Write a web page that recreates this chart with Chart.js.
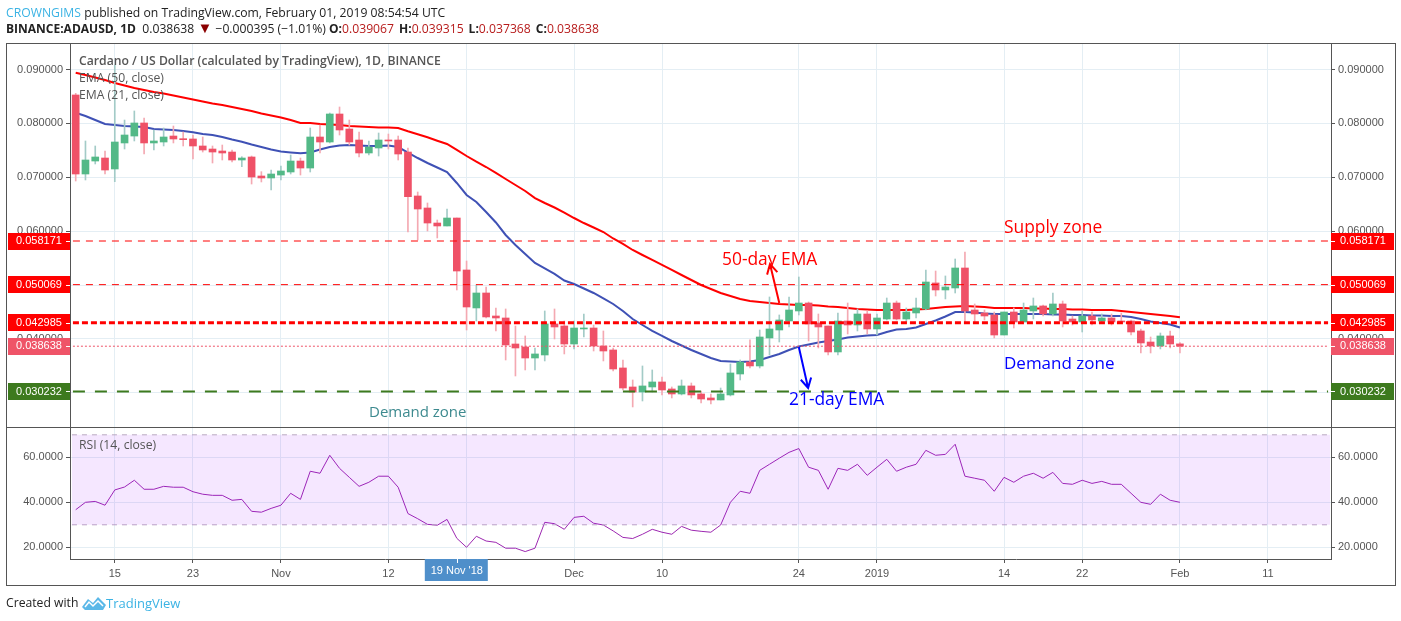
<!DOCTYPE html>
<html>
<head>
<meta charset="utf-8">
<script src="https://cdn.jsdelivr.net/npm/chart.js@4"></script>
<style>
  html,body{margin:0;padding:0;background:#fff;width:1401px;height:621px;overflow:hidden;}
  body{position:relative;font-family:"Open Sans",sans-serif;}
  canvas{position:absolute;left:0;}
  #cv-main{top:0;}
  #cv-rsi{top:427px;}
  .t{position:absolute;white-space:nowrap;}
  .frame{position:absolute;left:6px;top:43px;width:1388px;height:541px;border:1px solid #555;pointer-events:none;}
  .sep{position:absolute;left:6px;top:427px;width:1389px;height:1px;background:#555;}
  .head{font-size:12.2px;color:#222;line-height:16px;}
  .head b{font-weight:700;font-size:12px;}
  .head i{font-style:normal;color:#b71c1c;}
  .head u{text-decoration:none;margin-left:5px;}
  .leg{font-size:12.2px;color:#555;line-height:16px;}
  .note{font-size:17.4px;line-height:20px;}
</style>
</head>
<body>
<canvas id="cv-main" width="1401" height="427"></canvas>
<canvas id="cv-rsi" width="1401" height="194"></canvas>
<div class="sep"></div>
<div class="frame"></div>

<div class="t head" style="left:6px;top:5px"><span style="color:#3bb3e4">CROWNGIMS</span> published on TradingView.com, February 01, 2019 08:54:54 UTC</div>
<div class="t head" style="left:6px;top:21px"><b>BINANCE:ADAUSD, 1D</b>&nbsp; 0.038638 <span style="color:#8b0000;font-size:15px;line-height:12px">▼</span> −0.000395 (−1.01%) <b>O:</b><i>0.039067</i><u><b>H:</b></u><i>0.039315</i><u><b>L:</b></u><i>0.037368</i><u><b>C:</b></u><i>0.038638</i></div>

<div class="t leg" style="left:79px;top:53px;font-weight:600">Cardano / US Dollar (calculated by TradingView), 1D, BINANCE</div>
<div class="t leg" style="left:79px;top:70px">EMA (50, close)</div>
<div class="t leg" style="left:79px;top:87px">EMA (21, close)</div>
<div class="t leg" style="left:79px;top:437px">RSI (14, close)</div>

<div class="t note" style="left:1004px;top:216px;color:#ff0000">Supply zone</div>
<div class="t note" style="left:722px;top:248px;color:#ff0000">50-day EMA</div>
<div class="t note" style="left:1004px;top:353px;color:#0000ff;font-size:17px">Demand zone</div>
<div class="t note" style="left:789px;top:388px;color:#0000ff">21-day EMA</div>
<div class="t note" style="left:369px;top:401px;color:#3d8a8f;font-size:15px">Demand zone</div>

<div class="t head" style="left:6px;top:595px">Created with</div>
<svg style="position:absolute;left:82px;top:596px" width="24" height="15" viewBox="0 0 24 15">
  <path d="M0 11 L6 3 L11 7 L16 1 L24 9 L21 14 L3 14 Z" fill="#5bb8e8"/>
  <path d="M3 11 L7 6 L11 10 L16 5 L21 10" fill="none" stroke="#fff" stroke-width="1.5"/>
</svg>
<div class="t head" style="left:106px;top:595px;color:#3bb3e4;font-size:13px">TradingView</div>

<script>
// OHLC, one candle a day from 11 Oct 2018 (index 0) to 1 Feb 2019 (index 113)
const opens = [
  .08528,.07061,.07302,.07358,.07154,.07637,.07766,.08008,.07637,.07655,
  .07766,.07711,.07711,.07581,.07525,.07488,.07469,.07321,.07377,.07024,
  .06987,.07042,.07098,.07302,.07172,.07748,.07655,.08175,.07896,.07692,
  .07451,.07544,.07687,.07692,.07469,.06653,.06430,.06151,.06096,.06244,
  .05279,.04574,.04852,.04425,.04388,.03905,.03850,.03645,.03701,.04277,
  .04239,.03905,.04184,.04202,.03868,.03794,.03460,.03107,.03014,.03107,
  .03200,.03070,.02977,.03126,.02977,.02903,.02866,.02959,.03348,.03571,
  .03497,.04017,.04165,.04332,.04518,.04666,.04295,.04239,.03757,.04332,
  .04258,.04462,.04184,.04369,.04666,.04369,.04481,.04555,.05038,.04908,
  .04945,.05316,.04536,.04481,.04444,.04072,.04499,.04314,.04518,.04611,
  .04462,.04648,.04369,.04314,.04425,.04332,.04388,.04332,.04332,.04147,
  .03942,.03868,.04054,.03907
];
const highs = [
  .08559,.07674,.07581,.07488,.09084,.08063,.08231,.08101,.07878,.07915,
  .07952,.07841,.07785,.07748,.07581,.07599,.07507,.07382,.07395,.07104,
  .07135,.07209,.07414,.07358,.07915,.07971,.08193,.08305,.08063,.07841,
  .07674,.07822,.07803,.07766,.07544,.06727,.06523,.06207,.06411,.06244,
  .05446,.05000,.04963,.04574,.04555,.04239,.04054,.03831,.04518,.04555,
  .04332,.04332,.04462,.04258,.04147,.03831,.03608,.03237,.03497,.03423,
  .03293,.03107,.03237,.03181,.03033,.02977,.03088,.03534,.03608,.03980,
  .04165,.04778,.04444,.04778,.05149,.04685,.04462,.04239,.04481,.04666,
  .04555,.04518,.04462,.04759,.04703,.04574,.04759,.05279,.05260,.05168,
  .05483,.05613,.04648,.04536,.04499,.04499,.04574,.04666,.04759,.04629,
  .04852,.04703,.04425,.04518,.04499,.04462,.04462,.04481,.04351,.04184,
  .04035,.04109,.04147,.03932
];
const lows = [
  .06931,.06950,.07247,.07061,.06918,.07525,.07674,.07432,.07507,.07581,
  .07637,.07581,.07339,.07469,.07265,.07321,.07284,.07197,.06875,.06913,
  .06764,.06950,.07061,.07042,.07098,.07451,.07637,.07785,.07599,.07377,
  .07414,.07395,.07525,.07321,.05984,.05836,.06003,.05873,.06096,.04908,
  .04165,.04332,.04388,.04147,.03608,.03311,.03423,.03423,.03590,.03998,
  .03720,.03813,.04035,.03775,.03590,.03404,.03051,.02736,.02847,.03014,
  .02959,.02903,.02959,.02903,.02810,.02791,.02866,.02940,.03237,.03460,
  .03460,.03701,.03942,.04221,.04444,.03961,.03831,.03701,.03701,.04091,
  .04147,.04091,.04072,.04351,.04351,.04314,.04388,.04536,.04796,.04741,
  .04852,.04295,.04314,.04351,.04017,.04072,.04202,.04314,.04369,.04425,
  .04425,.04221,.04258,.04128,.04258,.04314,.04258,.04295,.04072,.03738,
  .03738,.03813,.03831,.03737
];
const closes = [
  .07061,.07321,.07377,.07135,.07655,.07785,.08008,.07637,.07674,.07748,
  .07711,.07698,.07581,.07507,.07469,.07451,.07321,.07358,.07005,.06987,
  .07061,.07117,.07302,.07172,.07748,.07655,.08175,.07878,.07655,.07451,
  .07562,.07692,.07674,.07432,.06640,.06411,.06151,.06096,.06244,.05260,
  .04592,.04852,.04407,.04388,.03887,.03831,.03645,.03720,.04277,.04221,
  .03905,.04202,.04202,.03868,.03775,.03441,.03088,.03014,.03126,.03200,
  .03051,.02977,.03126,.02959,.02884,.02866,.02977,.03367,.03571,.03497,
  .04035,.04184,.04351,.04536,.04666,.04277,.04221,.03757,.04332,.04258,
  .04462,.04184,.04388,.04666,.04369,.04499,.04574,.05056,.04908,.04963,
  .05316,.04518,.04462,.04425,.04072,.04499,.04314,.04536,.04611,.04462,
  .04648,.04332,.04314,.04425,.04351,.04388,.04314,.04314,.04128,.03924,
  .03868,.04054,.03905,.03864
];
const ema50 = [
  .08941,.08899,.08852,.08806,.08750,.08704,.08657,.08620,.08583,.08555,
  .08518,.08481,.08444,.08407,.08370,.08342,.08305,.08268,.08231,.08184,
  .08147,.08110,.08063,.08008,.08008,.07989,.07980,.07971,.07952,.07943,
  .07934,.07924,.07924,.07915,.07854,.07798,.07742,.07679,.07618,.07507,
  .07395,.07289,.07191,.07080,.06968,.06857,.06745,.06615,.06523,.06439,
  .06346,.06244,.06151,.06068,.05984,.05864,.05762,.05650,.05557,.05465,
  .05372,.05279,.05186,.05093,.05000,.04926,.04852,.04796,.04741,.04703,
  .04685,.04666,.04648,.04639,.04629,.04629,.04620,.04601,.04592,.04574,
  .04555,.04546,.04536,.04536,.04536,.04536,.04546,.04555,.04574,.04592,
  .04601,.04611,.04601,.04592,.04574,.04574,.04574,.04574,.04564,.04564,
  .04555,.04555,.04546,.04546,.04536,.04536,.04536,.04518,.04499,.04481,
  .04462,.04444,.04425,.04401
];
const ema21 = [
  .08199,.08138,.08063,.07989,.07971,.07952,.07943,.07934,.07896,.07887,
  .07878,.07859,.07835,.07803,.07785,.07748,.07701,.07661,.07609,.07562,
  .07516,.07479,.07460,.07445,.07460,.07516,.07562,.07590,.07599,.07590,
  .07581,.07581,.07590,.07562,.07460,.07358,.07265,.07182,.07098,.06894,
  .06671,.06541,.06356,.06161,.05929,.05743,.05576,.05409,.05307,.05205,
  .05084,.05019,.04935,.04852,.04750,.04648,.04518,.04369,.04258,.04147,
  .04054,.03961,.03877,.03794,.03720,.03645,.03590,.03580,.03571,.03580,
  .03608,.03664,.03720,.03794,.03859,.03896,.03933,.03961,.03989,.04026,
  .04044,.04063,.04072,.04128,.04174,.04184,.04212,.04277,.04342,.04416,
  .04499,.04499,.04490,.04471,.04462,.04462,.04462,.04462,.04462,.04462,
  .04453,.04453,.04444,.04444,.04434,.04434,.04425,.04425,.04407,.04369,
  .04323,.04295,.04267,.04212
];
const rsi = [
  36.7,40,40.4,38.7,45.5,46.8,49.8,45.8,45.8,47.1,
  46.7,46.7,44.7,43.6,43.1,43.1,40.9,41.3,36,35.6,
  37.3,38.7,44,41.3,53.8,52.9,60.9,55.1,51.1,47.1,
  48.9,51.6,51.6,46.7,35,32.7,30.2,29.8,32.4,24,
  20,24.9,22.8,22.2,19.6,19.6,18.1,19.6,31.1,30.5,
  28,33.3,33.8,30.7,29.9,27.3,24.4,23.9,25.8,28,
  26.7,25.8,29.3,27.6,27.1,26.7,29.9,40,44.9,44,
  54.2,56.9,59.6,62.2,63.9,55.6,54.2,45.8,55.1,54.2,
  56.9,52,55.6,59.1,53.8,55.6,56.9,63.1,60.9,61.3,
  65.8,51.6,50.7,49.8,44.9,51.1,48.9,51.6,52.9,50.7,
  53.3,48.4,48,49.8,48.4,49.3,48,48,44,40,
  39.1,43.6,40.9,40
];

const xTickIdx = [4,12,21,32,40,51,60,74,82,95,103,113,122];
const xTickLabels = ['15','23','Nov','12','20','Dec','10','24','2019','14','22','Feb','11'];
const priceTicks = [.03,.04,.05,.06,.07,.08,.09];
const rsiTicks = [20,40,60];

// horizontal levels and their axis boxes
const levelValues = [.058171,.050069,.042985,.038638,.030232];
const levelColors = ['#ff0000','#ff0000','#ff0000','#ef5468','#3d7a1e'];
const levelDash = [[7,6],[7,6],[6,3],[2,2],[12,10]];
const levelWidth = [1,1,3,1,2];

const redArrowX = [72,71.05], redArrowY = [.04666,.0539];
const blueArrowX = [74,74.95], blueArrowY = [.0385,.03088];
const crossIdx = 39, crossLabel = "19 Nov '18";

const xMin = -0.583, xMax = 128.46;
const GREEN='#53b987', RED='#ef5167', GREEN_W='#a3cbc7', RED_W='#f4a9b2';
const GRID='#e4eef4', AXIS='#555';

Chart.defaults.font.family='"Liberation Sans",Arial,sans-serif';
Chart.defaults.font.size=11;
Chart.defaults.color='#555';
Chart.defaults.animation=false;

const up = i=>closes[i]>=opens[i];
const yAxis = (pos,min,max,ticks,digits,grid)=>({
  position:pos, min, max,
  // no room for half labels, the pane has to fill its canvas exactly
  afterFit:s=>{ s.width=64; s.paddingTop=0; s.paddingBottom=0; },
  afterBuildTicks:s=>{ s.ticks=ticks.map(v=>({value:v})); },
  ticks:{ autoSkip:false, padding:3, callback:v=>v.toFixed(digits) },
  grid:{ drawOnChartArea:grid, color:GRID, tickColor:AXIS, tickLength:4 },
  border:{ color:AXIS }
});
const xAxis = (showLabels,h)=>({
  type:'linear', min:xMin, max:xMax, offset:false,
  afterFit:s=>{ s.height=h; s.paddingLeft=0; s.paddingRight=0; },
  afterBuildTicks:s=>{ s.ticks=xTickIdx.map(v=>({value:v})); },
  ticks:{ display:showLabels, autoSkip:false, maxRotation:0, padding:4,
          callback:v=>xTickLabels[xTickIdx.indexOf(v)] },
  grid:{ color:GRID, offset:false, drawTicks:showLabels, tickColor:AXIS, tickLength:4 },
  border:{ display:showLabels, color:AXIS }
});

function arrow(ctx,x0,y0,x1,y1,color){
  const a=Math.atan2(y1-y0,x1-x0), L=11;
  ctx.strokeStyle=color; ctx.lineWidth=2;
  ctx.beginPath(); ctx.moveTo(x0,y0); ctx.lineTo(x1,y1);
  ctx.moveTo(x1-L*Math.cos(a-.5),y1-L*Math.sin(a-.5)); ctx.lineTo(x1,y1);
  ctx.lineTo(x1-L*Math.cos(a+.5),y1-L*Math.sin(a+.5));
  ctx.stroke();
}

// axis boxes for the levels and the two drawn arrows
const mainExtras = {
  id:'mainExtras',
  afterDraw(c){
    const {ctx,scales:{x,y}}=c, a=c.chartArea;
    ctx.save();
    arrow(ctx,x.getPixelForValue(redArrowX[0]),y.getPixelForValue(redArrowY[0]),
              x.getPixelForValue(redArrowX[1]),y.getPixelForValue(redArrowY[1]),'#ff0000');
    arrow(ctx,x.getPixelForValue(blueArrowX[0]),y.getPixelForValue(blueArrowY[0]),
              x.getPixelForValue(blueArrowX[1]),y.getPixelForValue(blueArrowY[1]),'#0000ff');
    ctx.font='11px "Liberation Sans"';
    ctx.textBaseline='middle'; ctx.textAlign='left';
    levelValues.forEach((v,i)=>{
      const py=y.getPixelForValue(v), top=Math.round(py-8.5);
      ctx.fillStyle=levelColors[i];
      ctx.fillRect(8,top,a.left-8,17);
      ctx.fillRect(a.right,top,63,17);
      ctx.fillStyle='#fff';
      ctx.fillText(v.toFixed(6),16,py);
      ctx.fillText(v.toFixed(6),a.right+9,py);
      ctx.fillRect(a.left-4,Math.round(py),4,1);
      ctx.fillRect(a.right,Math.round(py),4,1);
    });
    ctx.restore();
  }
};

const rsiExtras = {
  id:'rsiExtras',
  afterDraw(c){
    const {ctx,scales:{x}}=c, a=c.chartArea, px=x.getPixelForValue(crossIdx);
    ctx.save();
    ctx.fillStyle='#4f8fca';
    ctx.fillRect(px-32,a.bottom,63,22);
    ctx.fillStyle='#fff';
    ctx.fillRect(Math.round(px),a.bottom,1,4);
    ctx.font='11px "Liberation Sans"';
    ctx.textAlign='center'; ctx.textBaseline='middle';
    ctx.fillText(crossLabel,px,a.bottom+12);
    ctx.restore();
  }
};

new Chart(document.getElementById('cv-main'),{
  type:'bar',
  data:{ datasets:[
    ...levelValues.map((v,i)=>({
      type:'line', order:0, data:[{x:xMin+.3,y:v},{x:xMax-.3,y:v}],
      borderColor:levelColors[i], borderWidth:levelWidth[i], borderDash:levelDash[i],
      pointRadius:0, yAxisID:'y'
    })),
    { order:1, grouped:false, barThickness:7, minBarLength:1,
      data:opens.map((o,i)=>({x:i,y:[o,closes[i]]})),
      backgroundColor:opens.map((o,i)=>up(i)?GREEN:RED) },
    { order:2, grouped:false, barThickness:1,
      data:highs.map((h,i)=>({x:i,y:[lows[i],h]})),
      backgroundColor:highs.map((h,i)=>up(i)?GREEN_W:RED_W) },
    { type:'line', order:3, data:ema21.map((v,i)=>({x:i,y:v})),
      borderColor:'#3f51b5', borderWidth:2, pointRadius:0 },
    { type:'line', order:4, data:ema50.map((v,i)=>({x:i,y:v})),
      borderColor:'#ff0000', borderWidth:2, pointRadius:0 }
  ]},
  options:{
    responsive:false, events:[],
    layout:{padding:{left:6,right:6,top:43,bottom:0}},
    plugins:{legend:{display:false},tooltip:{enabled:false}},
    scales:{
      x:xAxis(false,0),
      y:yAxis('left',.02364,.09493,priceTicks,6,true),
      yR:yAxis('right',.02364,.09493,priceTicks,6,false)
    }
  },
  plugins:[mainExtras]
});

new Chart(document.getElementById('cv-rsi'),{
  type:'line',
  data:{ datasets:[
    { data:[{x:xMin+.2,y:70},{x:xMax-.1,y:70}], borderColor:'#b9a9c2', borderWidth:1, borderDash:[5,5],
      pointRadius:0, fill:{value:30}, backgroundColor:'rgba(153,21,255,.1)' },
    { data:[{x:xMin+.2,y:30},{x:xMax-.1,y:30}], borderColor:'#b9a9c2', borderWidth:1, borderDash:[5,5],
      pointRadius:0 },
    { data:rsi.map((v,i)=>({x:i,y:v})), borderColor:'#9c27b0', borderWidth:1, pointRadius:0 }
  ]},
  options:{
    responsive:false, events:[],
    layout:{padding:{left:6,right:6,top:0,bottom:0}},
    plugins:{legend:{display:false},tooltip:{enabled:false}},
    scales:{
      x:xAxis(true,62),
      y:yAxis('left',14.8,73.47,rsiTicks,4,true),
      yR:yAxis('right',14.8,73.47,rsiTicks,4,false)
    }
  },
  plugins:[rsiExtras]
});
</script>
</body>
</html>
